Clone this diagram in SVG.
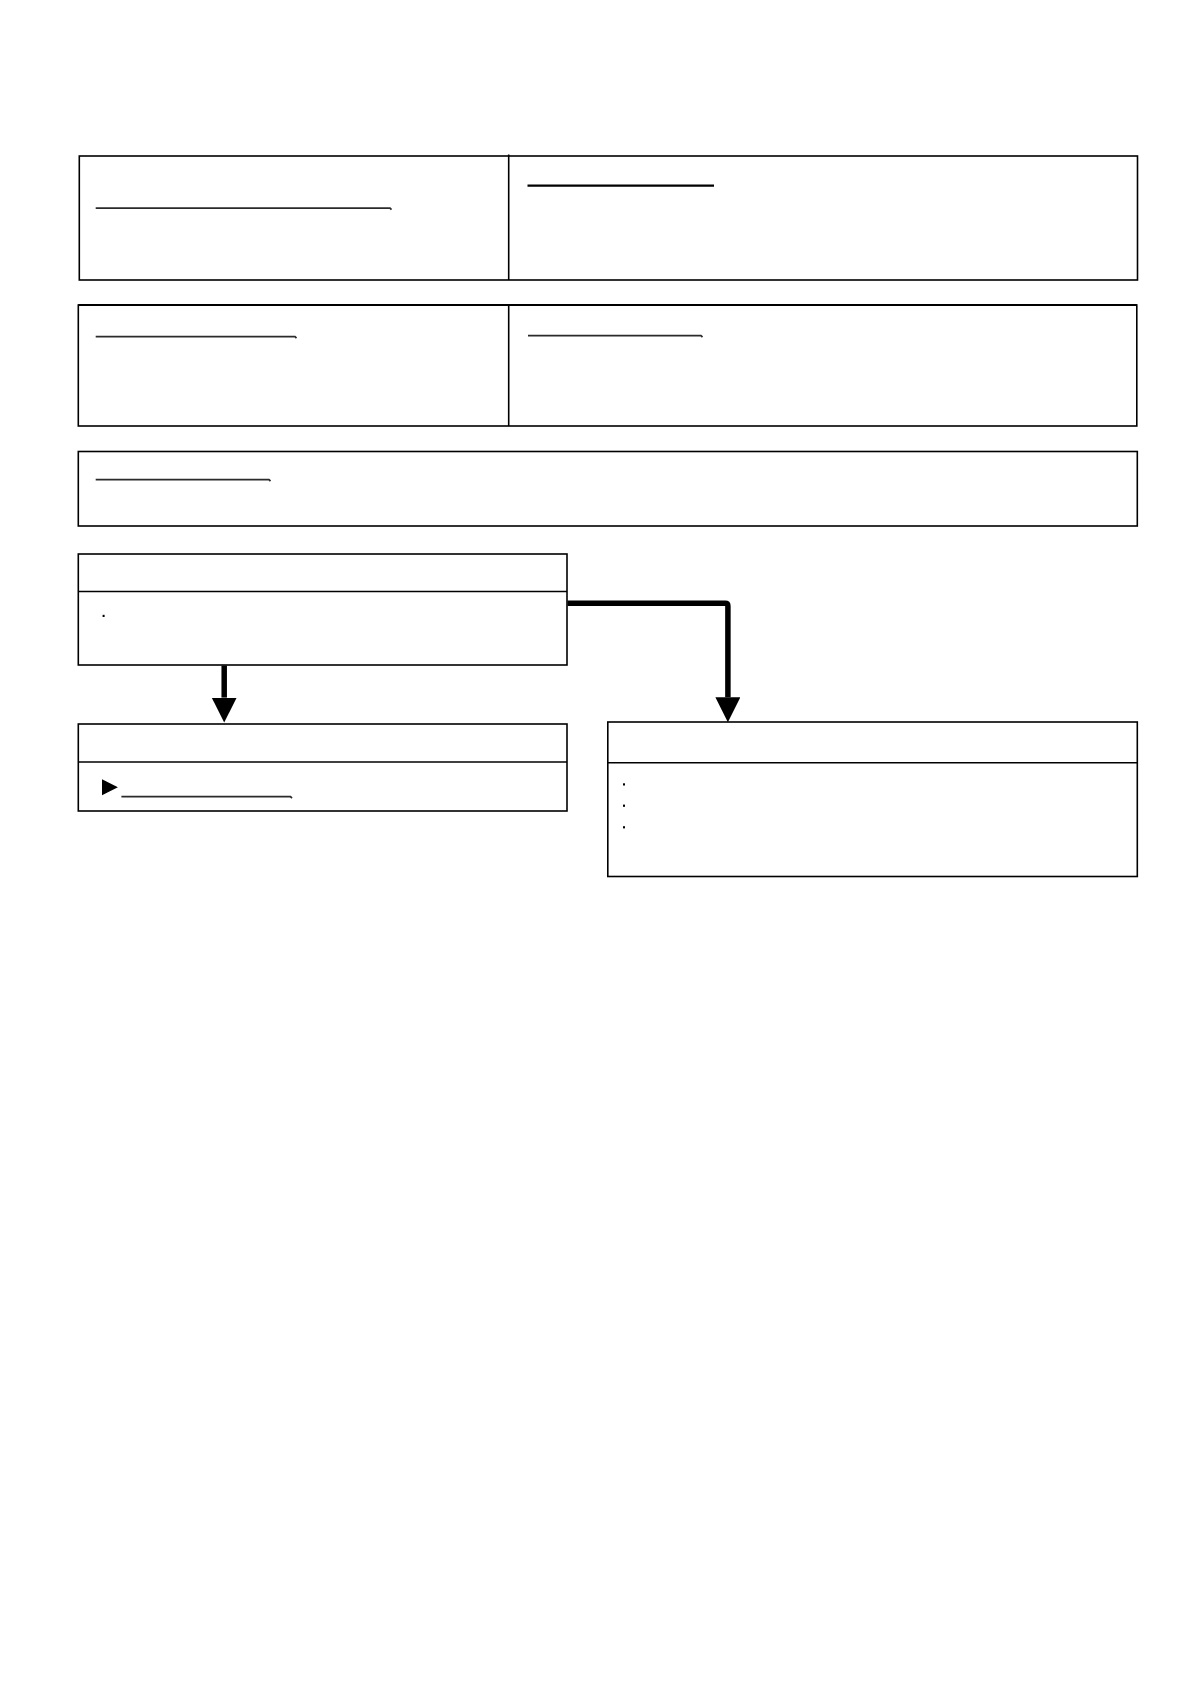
<svg xmlns="http://www.w3.org/2000/svg" width="1192" height="1684" viewBox="0 0 1192 1684">
<style>
.box{fill:none;stroke:#000;stroke-width:1.6}
.div{stroke:#000;stroke-width:1.6}
.ul{fill:none;stroke:#2b2b2b;stroke-width:1.8}
.ulb{fill:none;stroke:#000;stroke-width:2.2}
.dot{fill:#000}
.conn{fill:none;stroke:#000;stroke-width:5.5;stroke-linejoin:round}
</style>
<defs>
<marker id="head" markerUnits="userSpaceOnUse" markerWidth="26" markerHeight="26" refX="0" refY="12.5" orient="auto">
<path d="M0,0 L25,12.5 L0,25 z" fill="#000"/>
</marker>
</defs>
<rect x="0" y="0" width="1192" height="1684" fill="#fff"/>
<g id="row1">
<g id="node-r1-left">
<path class="ul" d="M95.7 208.2 H390 l1.5 1.5"/>
</g>
<g id="node-r1-right">
<path class="ulb" d="M527.5 185.7 H714"/>
</g>
<rect class="box" x="79.3" y="156" width="1058.2" height="124"/>
<line class="div" x1="508.7" y1="154.5" x2="508.7" y2="280"/>
</g>
<g id="row2">
<g id="node-r2-left">
<path class="ul" d="M95.7 336.6 H295 l1.5 1.5"/>
</g>
<g id="node-r2-right">
<path class="ul" d="M528 335.7 H701 l1.5 1.5"/>
</g>
<rect class="box" x="78.3" y="305" width="1058.5" height="121"/>
<line x1="78.3" y1="305" x2="1136.8" y2="305" stroke="#000" stroke-width="2.2"/>
<line class="div" x1="508.7" y1="305" x2="508.7" y2="426"/>
</g>
<g id="node-r3">
<rect class="box" x="78.3" y="451.5" width="1059" height="74.5"/>
<path class="ul" d="M95.7 479.6 H269 l1.5 1.5"/>
</g>
<g id="node-d">
<rect class="box" x="78.3" y="554" width="488.7" height="111"/>
<line class="div" x1="78.3" y1="591.5" x2="567" y2="591.5"/>
<rect class="dot" x="102.6" y="614.8" width="2" height="2.2"/>
</g>
<g id="node-e">
<rect class="box" x="78.3" y="724" width="488.7" height="87"/>
<line class="div" x1="78.3" y1="762" x2="567" y2="762"/>
<polygon points="102,779.3 117.9,787.3 102,795.3" fill="#000"/>
<path class="ul" d="M121.4 796.6 H290.5 l1.5 1.5"/>
</g>
<g id="node-f">
<rect class="box" x="607.8" y="722" width="529.5" height="154.5"/>
<line class="div" x1="607.8" y1="762.7" x2="1137.3" y2="762.7"/>
<rect class="dot" x="623" y="783.3" width="2" height="2.2"/>
<rect class="dot" x="623" y="804.6" width="2" height="2.2"/>
<rect class="dot" x="623" y="826.2" width="2" height="2.2"/>
</g>
<g id="connectors">
<path class="conn" d="M224.2 665.5 V697.6" marker-end="url(#head)"/>
<path class="conn" d="M567.5 603.3 H725.2 Q727.9 603.3 727.9 606 V697.2" marker-end="url(#head)"/>
</g>
</svg>
